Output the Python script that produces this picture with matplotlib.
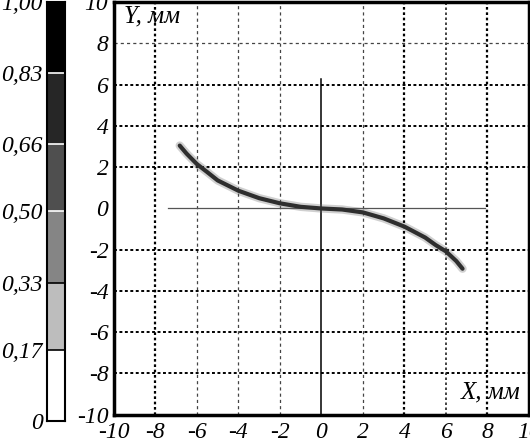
import matplotlib
matplotlib.use("Agg")
import matplotlib.pyplot as plt

# colour scale (discrete levels)
levels = [0.0, 0.17, 0.33, 0.50, 0.66, 0.83, 1.00]
level_labels = ["0", "0,17", "0,33", "0,50", "0,66", "0,83", "1,00"]
level_colors = ["#ffffff", "#bdbdbd", "#858585", "#4f4f4f", "#262626", "#000000"]

# trajectory
curve_x = [-6.83, -6.5, -6.0, -5.5, -5.0, -4.0, -3.0, -2.0, -1.0, 0.0,
           1.0, 2.0, 3.0, 4.0, 5.0, 5.5, 6.0, 6.5, 6.8]
curve_y = [3.05, 2.66, 2.15, 1.76, 1.36, 0.86, 0.5, 0.25, 0.08, 0.0,
           -0.05, -0.19, -0.48, -0.88, -1.41, -1.77, -2.08, -2.55, -2.92]

# reference lines
vline_x, vline_y = [0, 0], [-10, 6.3]
hline_x, hline_y = [-7.4, 7.9], [0, 0]

ticks = [-10, -8, -6, -4, -2, 0, 2, 4, 6, 8, 10]
tick_labels = [str(t) for t in ticks]

plt.rcParams["font.family"] = ["Liberation Serif", "DejaVu Serif"]
plt.rcParams["font.style"] = "italic"
FS = 17

fig = plt.figure(figsize=(5.30, 4.45), dpi=100)
ax = fig.add_axes([0.215, 0.068, 0.783, 0.927])
cax = fig.add_axes([0.0887, 0.054, 0.034, 0.942])

# colour bar
for lo, hi, c in zip(levels[:-1], levels[1:], level_colors):
    cax.bar(0, hi - lo, bottom=lo, width=1, color=c, edgecolor="none")
for lv in levels[1:-1]:
    cax.axhline(lv, color="white" if lv >= 0.5 else "black", lw=1.2)
cax.set_xlim(-0.5, 0.5)
cax.set_ylim(0, 1)
cax.set_xticks([])
cax.set_yticks(levels)
cax.set_yticklabels(level_labels, fontsize=FS, style="italic")
cax.tick_params(axis="y", length=0, pad=3)
for s in cax.spines.values():
    s.set_linewidth(1.5)

# grid
heavy_x = {-8, 4, 8}
mid_x = {6}
light_y = {8}
for t in ticks[1:-1]:
    if t == 0:
        continue
    if t in heavy_x:
        ax.axvline(t, color="black", lw=1.6, ls=(0, (1.2, 1.2)), zorder=1)
    elif t in mid_x:
        ax.axvline(t, color="#222222", lw=1.2, ls=(0, (1.5, 1.5)), zorder=1)
    else:
        ax.axvline(t, color="#444444", lw=0.9, ls=(0, (2.5, 2.5)), zorder=1)
    if t in light_y:
        ax.axhline(t, color="#444444", lw=0.9, ls=(0, (2.5, 2.5)), zorder=1)
    else:
        ax.axhline(t, color="black", lw=1.4, ls=(0, (1.5, 1.3)), zorder=1)

ax.plot(vline_x, vline_y, color="black", lw=1.1, zorder=2)
ax.plot(hline_x, hline_y, color="#555555", lw=0.9, zorder=2)

# blurred trajectory
ax.plot(curve_x, curve_y, color="#666666", lw=6, alpha=0.3,
        solid_capstyle="round", solid_joinstyle="round", zorder=3)
ax.plot(curve_x, curve_y, color="#2e2e2e", lw=3.0,
        solid_capstyle="round", solid_joinstyle="round", zorder=4)

ax.set_xlim(-10, 10)
ax.set_ylim(-10, 10)
ax.set_xticks(ticks)
ax.set_xticklabels(tick_labels, fontsize=FS, style="italic")
ax.set_yticks(ticks)
ax.set_yticklabels(tick_labels, fontsize=FS, style="italic")
ax.tick_params(length=0)
ax.tick_params(axis="y", pad=4)
ax.tick_params(axis="x", pad=5)
for s in ax.spines.values():
    s.set_linewidth(2.5)

ax.text(-9.5, 9.85, "Y, мм", fontsize=FS + 1, style="italic", va="top", ha="left")
ax.text(9.6, -9.45, "X, мм", fontsize=FS + 1, style="italic", va="bottom", ha="right")

fig.savefig("out.png", dpi=100)
